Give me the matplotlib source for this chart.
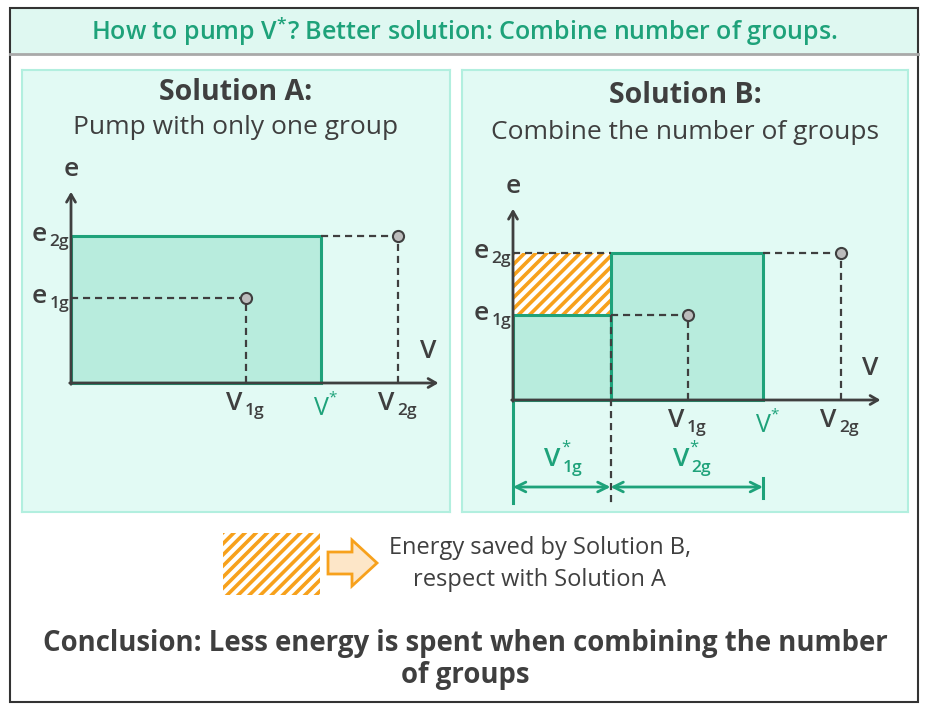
import matplotlib
matplotlib.use('Agg')
import matplotlib.pyplot as plt
from matplotlib.patches import Rectangle, FancyArrow

plt.rcParams['font.family'] = ['Open Sans', 'DejaVu Sans']
plt.rcParams['mathtext.fontset'] = 'custom'
plt.rcParams['mathtext.rm'] = 'Open Sans'
plt.rcParams['mathtext.default'] = 'regular'
plt.rcParams['hatch.linewidth'] = 2.6

W, H = 928, 710
U = 25.0  # pixels per unit of the e-V plane

# values on the e-V plane (same scale in both panels)
v_1g, v_star, v_2g = 7.0, 10.0, 13.1
v_star_1g = 3.9           # V*1g, V*2g = v_star - v_star_1g
e_1g, e_2g = 3.4, 5.9
x_axis_end, y_axis_top = 14.7, 7.65

title = "How to pump V$^{*}$? Better solution: Combine number of groups."
panel_titles = ["Solution A:", "Solution B:"]
panel_subtitles = ["Pump with only one group", "Combine the number of groups"]
legend_lines = ["Energy saved by Solution B,", "respect with Solution A"]
conclusion = ["Conclusion: Less energy is spent when combining the number", "of groups"]

green = '#1ea27a'
green_fill = '#b8ecdd'
panel_bg = '#e2faf4'
panel_edge = '#b2efdf'
orange = '#f7a11c'
dark = '#3f3f3f'
dash = (3.2, 2.2)

fig = plt.figure(figsize=(W / 100, H / 100), dpi=100)
bg = fig.add_axes([0, 0, 1, 1])
bg.set_xlim(0, W)
bg.set_ylim(H, 0)
bg.axis('off')

# frame and title bar
bg.add_patch(Rectangle((10, 8), 908, 46, facecolor='#dff8f1', edgecolor='none'))
bg.plot([10, 918], [54, 54], color='#a9a9a9', lw=2)
bg.add_patch(Rectangle((10, 8), 908, 694, facecolor='none', edgecolor='#333333', lw=1.5))
bg.text(464, 31, title, color=green, fontsize=18, fontweight='semibold',
        ha='center', va='center')


def sub_label(ax, x, y, base, sub, color=dark, star=False, size=19, ssize=12.5):
    ax.text(x, y, base, color=color, fontsize=size, fontweight='semibold',
            ha='right', va='center', zorder=6)
    ax.text(x + 0.1, y - 0.3, sub, color=color, fontsize=ssize, fontweight='semibold',
            ha='left', va='center', zorder=6)
    if star:
        ax.text(x + 0.02, y + 0.5, '*', color=color, fontsize=12,
                ha='left', va='center', zorder=6)


def panel(rect, origin, idx, title_dy):
    x0, y0, x1, y1 = rect
    ox, oy = origin
    ax = fig.add_axes([x0 / W, 1 - y1 / H, (x1 - x0) / W, (y1 - y0) / H])
    ax.set_xlim((x0 - ox) / U, (x1 - ox) / U)
    ax.set_ylim((oy - y1) / U, (oy - y0) / U)
    ax.set_facecolor(panel_bg)
    for s in ax.spines.values():
        s.set_color(panel_edge)
        s.set_linewidth(1.5)
    ax.set_xticks([])
    ax.set_yticks([])
    ax.text(0.5, 1 - title_dy[0] / (y1 - y0), panel_titles[idx], transform=ax.transAxes,
            fontsize=20.5, fontweight='bold', color=dark, ha='center', va='center')
    ax.text(0.5, 1 - title_dy[1] / (y1 - y0), panel_subtitles[idx], transform=ax.transAxes,
            fontsize=19, color=dark, ha='center', va='center')

    # axes arrows
    arrow = dict(arrowstyle='->,head_length=0.55,head_width=0.32', color=dark,
                 lw=2, shrinkA=0, shrinkB=0)
    ax.annotate('', xy=(x_axis_end, 0), xytext=(-0.05, 0), arrowprops=arrow, zorder=5)
    ax.annotate('', xy=(0, y_axis_top), xytext=(0, -0.05), arrowprops=arrow, zorder=5)
    ax.text(0, 8.55, 'e', fontsize=19, fontweight='semibold', color=dark,
            ha='center', va='center')
    ax.text(14.3, 1.25, 'V', fontsize=19, fontweight='semibold', color=dark,
            ha='center', va='center')

    # operating points with dashed guides
    for v, e in [(v_1g, e_1g), (v_2g, e_2g)]:
        ax.plot([v, v], [0, e], color=dark, lw=1.6, dashes=dash, zorder=3)
        ax.plot(v, e, 'o', ms=8, mfc='#bcbcbc', mec=dark, mew=1.5, zorder=6)
    ax.plot([v_star, v_2g], [e_2g, e_2g], color=dark, lw=1.6, dashes=dash, zorder=3)

    sub_label(ax, -0.95, e_2g + 0.05, 'e', '2g')
    sub_label(ax, -0.95, e_1g + 0.05, 'e', '1g')
    sub_label(ax, v_1g - 0.15, -0.8, 'V', '1g')
    sub_label(ax, v_2g - 0.15, -0.8, 'V', '2g')
    ax.text(v_star, -1.0, 'V', color=green, fontsize=18, ha='center', va='center')
    ax.text(v_star + 0.3, -0.6, '*', color=green, fontsize=11, ha='left', va='center')
    return ax


# Solution A: one group runs the whole volume at e_2g
ax_a = panel((22, 70, 450, 512), (71, 383), 0, (22, 57))
ax_a.add_patch(Rectangle((0, 0), v_star, e_2g, facecolor=green_fill,
                         edgecolor=green, lw=2.2, zorder=1))
ax_a.plot([0, v_1g], [e_1g, e_1g], color=dark, lw=1.6, dashes=dash, zorder=3)

# Solution B: part with one group, rest with two
ax_b = panel((462, 70, 908, 512), (513, 400), 1, (25, 62))
ax_b.add_patch(Rectangle((0, e_1g), v_star_1g, e_2g - e_1g, facecolor='white',
                         edgecolor=orange, hatch='///', lw=0, zorder=1))
ax_b.add_patch(Rectangle((0, 0), v_star_1g, e_1g, facecolor=green_fill,
                         edgecolor=green, lw=2.2, zorder=2))
ax_b.add_patch(Rectangle((v_star_1g, 0), v_star - v_star_1g, e_2g, facecolor=green_fill,
                         edgecolor=green, lw=2.2, zorder=2))
ax_b.plot([0, v_star_1g], [e_2g, e_2g], color=dark, lw=1.6, dashes=dash, zorder=3)
ax_b.plot([v_star_1g, v_1g], [e_1g, e_1g], color=dark, lw=1.6, dashes=dash, zorder=3)
ax_b.plot([v_star_1g, v_star_1g], [e_1g, -4.12], color=dark, lw=1.6, dashes=dash, zorder=3)
ax_b.plot([0, 0], [0, -4.12], color=green, lw=2.2, zorder=4)
ax_b.plot([v_star, v_star], [-3.1, -3.9], color=green, lw=2.2, zorder=4)
garrow = dict(arrowstyle='<->,head_length=0.7,head_width=0.35', color=green,
              lw=2, shrinkA=0, shrinkB=0)
y_dim = -3.48
ax_b.annotate('', xy=(v_star_1g, y_dim), xytext=(0, y_dim), arrowprops=garrow)
ax_b.annotate('', xy=(v_star, y_dim), xytext=(v_star_1g, y_dim), arrowprops=garrow)
sub_label(ax_b, v_star_1g / 2 - 0.05, -2.4, 'V', '1g', color=green, star=True)
sub_label(ax_b, (v_star_1g + v_star) / 2 + 0.1, -2.4, 'V', '2g', color=green, star=True)

# legend
bg.add_patch(Rectangle((223, 533), 97, 62, facecolor='white', edgecolor=orange,
                       hatch='///', lw=0))
bg.add_patch(FancyArrow(328, 563, 49, 0, width=22, head_width=46, head_length=25,
                        length_includes_head=True, facecolor='#fde6c8',
                        edgecolor=orange, lw=2))
bg.text(540, 548, legend_lines[0], fontsize=17, color=dark, ha='center', va='center')
bg.text(540, 580, legend_lines[1], fontsize=17, color=dark, ha='center', va='center')

# conclusion
bg.text(465, 643, conclusion[0], fontsize=19.8, fontweight='bold', color=dark,
        ha='center', va='center')
bg.text(465, 676, conclusion[1], fontsize=19.8, fontweight='bold', color=dark,
        ha='center', va='center')

fig.savefig('out.png', dpi=100)
